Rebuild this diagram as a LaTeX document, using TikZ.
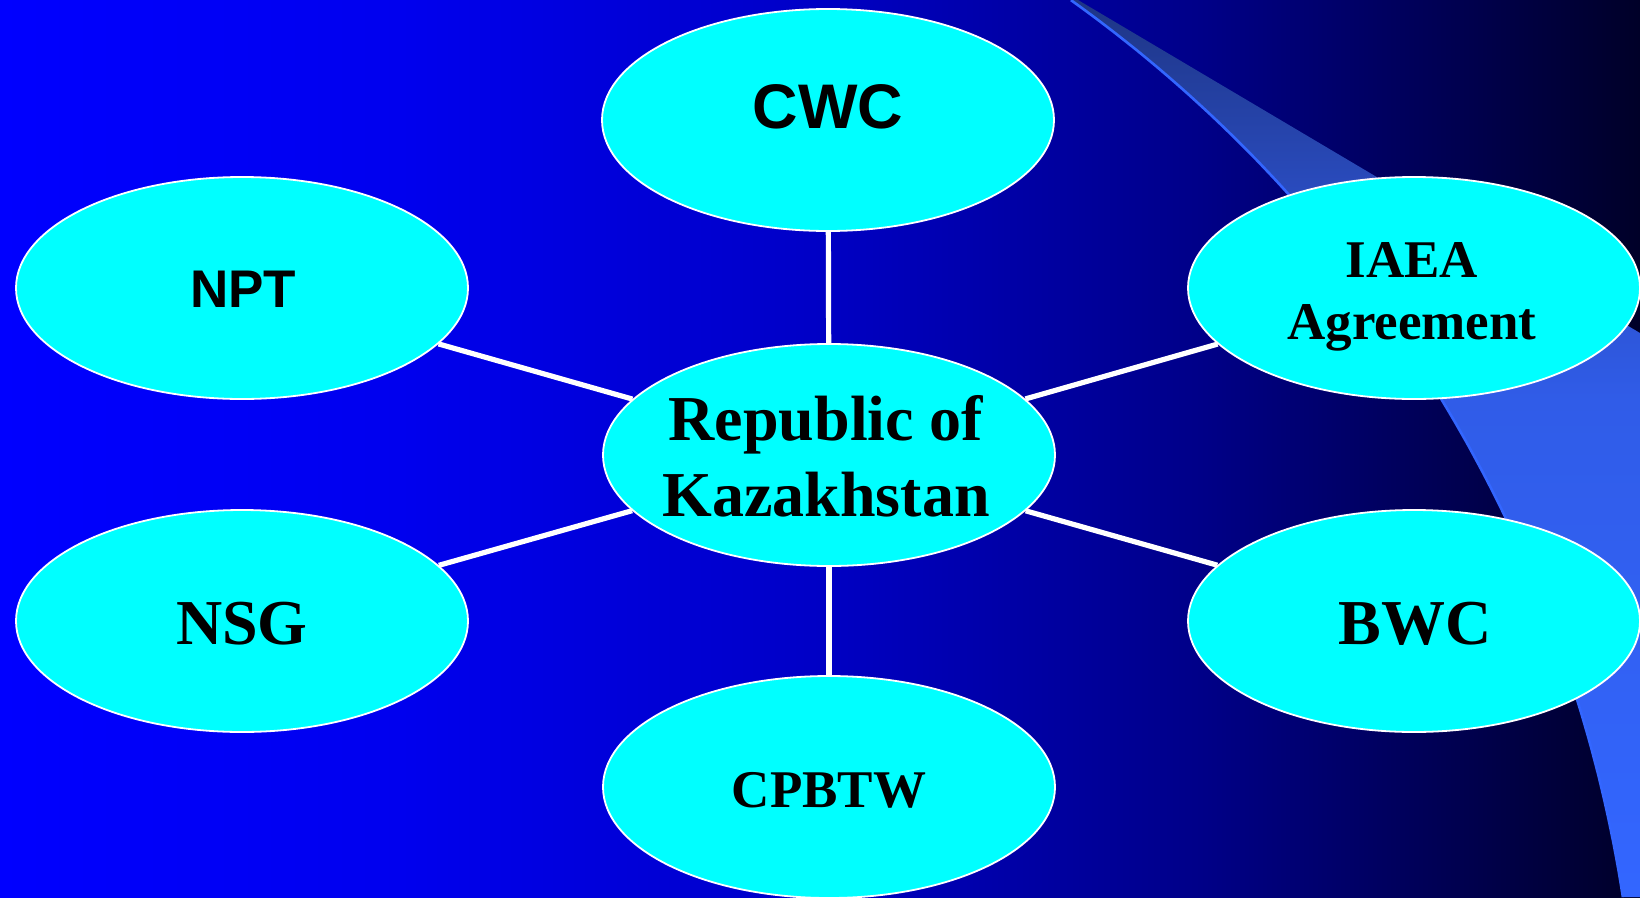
\documentclass[tikz,border=0pt]{standalone}
\usepackage{fontspec}
\setmainfont{Liberation Serif}
\setsansfont{Liberation Sans}
\usetikzlibrary{shapes.geometric}
\definecolor{bgA}{RGB}{0,0,255}
\definecolor{bgB}{RGB}{0,0,238}
\definecolor{bgC}{RGB}{0,0,200}
\definecolor{bgD}{RGB}{0,0,136}
\definecolor{bgE}{RGB}{0,0,40}
\definecolor{swA}{RGB}{30,53,133}
\definecolor{swB}{RGB}{42,76,192}
\definecolor{swC}{RGB}{48,92,232}
\definecolor{swD}{RGB}{51,102,255}
\definecolor{ellfill}{RGB}{0,255,255}
\pgfdeclarehorizontalshading{bgshade}{100bp}{color(0bp)=(bgA); color(25bp)=(bgA); color(37.2bp)=(bgB); color(49.4bp)=(bgC); color(61.6bp)=(bgD); color(75bp)=(bgE); color(100bp)=(bgE)}
\pgfdeclareverticalshading{swshade}{100bp}{color(0bp)=(swD); color(25bp)=(swD); color(52.7bp)=(swC); color(63.9bp)=(swB); color(75bp)=(swA); color(100bp)=(swA)}
\pgfdeclarelayer{back}
\pgfdeclarelayer{links}
\pgfsetlayers{back,links,main}
\begin{document}
\begin{tikzpicture}[x=1pt,y=-1pt,
  ell/.style={ellipse, fill=ellfill, draw=white, line width=1.8pt,
    minimum width=452pt, minimum height=222pt, inner sep=0pt},
  link/.style={draw=white, line width=5.2pt},
  lbl/.style={inner sep=0pt, text depth=0pt, align=center, text=black}]
\useasboundingbox (0,0) rectangle (1640,897);
\begin{pgfonlayer}{back}
  \shade[shading=bgshade] (0,0) rectangle (1640,897);
  \shade[shading=swshade] plot[domain=-54.44:-8.77, samples=80]
     ({281.8+1357*cos(\x)}, {1104+1357*sin(\x)})
     -- (1640,897) -- (1640,333) -- (1078,0) -- cycle;
  \draw[draw=swD, line width=2.6pt] plot[domain=-54.44:-8.77, samples=80]
     ({281.8+1357*cos(\x)}, {1104+1357*sin(\x)});
\end{pgfonlayer}

\node[ell] (rk) at (829,455) {};
\node[ell] (cwc) at (828,120) {};
\node[ell] (npt) at (242,288) {};
\node[ell] (iaea) at (1414,288) {};
\node[ell] (nsg) at (242,621) {};
\node[ell] (bwc) at (1414,621) {};
\node[ell] (cpbtw) at (829,787) {};

\begin{pgfonlayer}{links}
  \draw[link] (rk) -- (cwc);
  \draw[link] (rk) -- (npt);
  \draw[link] (rk) -- (iaea);
  \draw[link] (rk) -- (nsg);
  \draw[link] (rk) -- (bwc);
  \draw[link] (rk) -- (cpbtw);
\end{pgfonlayer}

\node[lbl, font=\sffamily\bfseries\fontsize{63pt}{70pt}\selectfont] (cwct) at (828,107) {CWC};
\node[lbl, font=\sffamily\bfseries\fontsize{53pt}{60pt}\selectfont] (nptt) at (243,289) {NPT};
\node[lbl, font=\bfseries\fontsize{53pt}{62pt}\selectfont] (iaeat) at (1412,291) {IAEA\\Agreement};
\node[lbl, font=\bfseries\fontsize{64pt}{76.4pt}\selectfont] (rkt) at (826,456) {Republic of\\Kazakhstan};
\node[lbl, font=\bfseries\fontsize{64pt}{70pt}\selectfont] (nsgt) at (242,623) {NSG};
\node[lbl, font=\bfseries\fontsize{64pt}{70pt}\selectfont] (bwct) at (1415,623) {BWC};
\node[lbl, font=\bfseries\fontsize{53pt}{60pt}\selectfont] (cpbtwt) at (829,790) {CPBTW};
\end{tikzpicture}
\end{document}
